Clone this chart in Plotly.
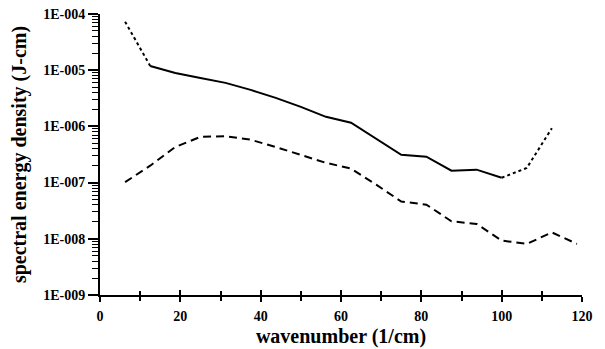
import plotly.graph_objects as go

# wavenumber grid (1/cm)
wavenumber = [6.25, 12.5, 18.75, 25, 31.25, 37.5, 43.75, 50, 56.25, 62.5,
              68.75, 75, 81.25, 87.5, 93.75, 100, 106.25, 112.5, 118.75]

# upper series (dotted at both ends, solid in the middle)
upper_x = wavenumber[:18]
upper_y = [7.3e-5, 1.19e-5, 8.95e-6, 7.3e-6, 5.95e-6, 4.47e-6, 3.22e-6, 2.23e-6,
           1.48e-6, 1.16e-6, 6.0e-7, 3.13e-7, 2.89e-7, 1.63e-7, 1.7e-7, 1.22e-7,
           1.82e-7, 9.3e-7]

# lower series (dashed)
lower_y = [1.02e-7, 2.0e-7, 4.3e-7, 6.5e-7, 6.7e-7, 5.8e-7, 4.3e-7, 3.1e-7,
           2.25e-7, 1.77e-7, 9.2e-8, 4.6e-8, 4.05e-8, 2.05e-8, 1.84e-8, 9.3e-9,
           8.1e-9, 1.3e-8, 8.1e-9]

y_tickvals = [1e-9, 1e-8, 1e-7, 1e-6, 1e-5, 1e-4]
y_ticktext = ["1E-009", "1E-008", "1E-007", "1E-006", "1E-005", "1E-004"]
x_tickvals = [0, 20, 40, 60, 80, 100, 120]
x_ticktext = ["0", "20", "40", "60", "80", "100", "120"]
y_minor_vals = [m * 10.0 ** e for e in range(-9, -4) for m in range(2, 10)]

FONT = "Liberation Serif"
Y_RANGE = [-9.0005, -3.9995]
fig = go.Figure()

fig.add_trace(go.Scatter(x=upper_x[:2], y=upper_y[:2], mode="lines",
                         line=dict(color="black", width=2, dash="3px,3px")))
fig.add_trace(go.Scatter(x=upper_x[1:16], y=upper_y[1:16], mode="lines",
                         line=dict(color="black", width=2)))
fig.add_trace(go.Scatter(x=upper_x[15:], y=upper_y[15:], mode="lines",
                         line=dict(color="black", width=2, dash="3px,3px")))
fig.add_trace(go.Scatter(x=wavenumber, y=lower_y, mode="lines",
                         xaxis="x2", yaxis="y2",
                         line=dict(color="black", width=2, dash="8px,5px")))

tickfont = dict(family=FONT, size=14, color="black")
titlefont = dict(family=FONT, size=20, color="black")
fig.update_layout(
    width=597, height=341,
    margin=dict(l=92, r=23, t=6, b=53.5, autoexpand=False),
    paper_bgcolor="white", plot_bgcolor="white",
    showlegend=False,
    xaxis=dict(range=[0, 120], tickvals=x_tickvals,
               ticktext=["<b>%s</b>" % t for t in x_ticktext],
               ticks="outside", ticklen=5, tickwidth=2, tickcolor="black",
               showline=True, linewidth=2, linecolor="black",
               showgrid=False, zeroline=False, tickfont=tickfont,
               automargin=False, ticklabelstandoff=2,
               ticklabeloverflow="allow",
               minor=dict(dtick=10, ticks="outside", ticklen=4, tickwidth=1.5,
                          tickcolor="black", showgrid=False),
               title=dict(text="<b>wavenumber (1/cm)</b>", font=titlefont,
                          standoff=6)),
    xaxis2=dict(range=[0, 120], overlaying="x", anchor="y2", tickvals=x_tickvals,
                ticks="inside", ticklen=5, tickwidth=2, tickcolor="black",
                showticklabels=False, showgrid=False, zeroline=False,
                automargin=False,
                minor=dict(dtick=10, ticks="inside", ticklen=4, tickwidth=1.5,
                           tickcolor="black", showgrid=False)),
    yaxis=dict(type="log", range=Y_RANGE, tickvals=y_tickvals,
               ticktext=["<b>%s</b>" % t for t in y_ticktext],
               ticks="outside", ticklen=10, tickwidth=2, tickcolor="black",
               showline=True, linewidth=2, linecolor="black",
               showgrid=False, zeroline=False, tickfont=tickfont,
               automargin=False, ticklabeloverflow="allow",
               title=dict(text="<b>spectral energy density (J-cm)</b>",
                          font=titlefont, standoff=14)),
    yaxis2=dict(type="log", range=Y_RANGE, overlaying="y", anchor="x2",
                side="left", tickvals=y_minor_vals, ticks="outside", ticklen=7,
                tickwidth=1, tickcolor="black", showticklabels=False,
                showgrid=False, zeroline=False, automargin=False),
)

fig.write_html("out.html")
